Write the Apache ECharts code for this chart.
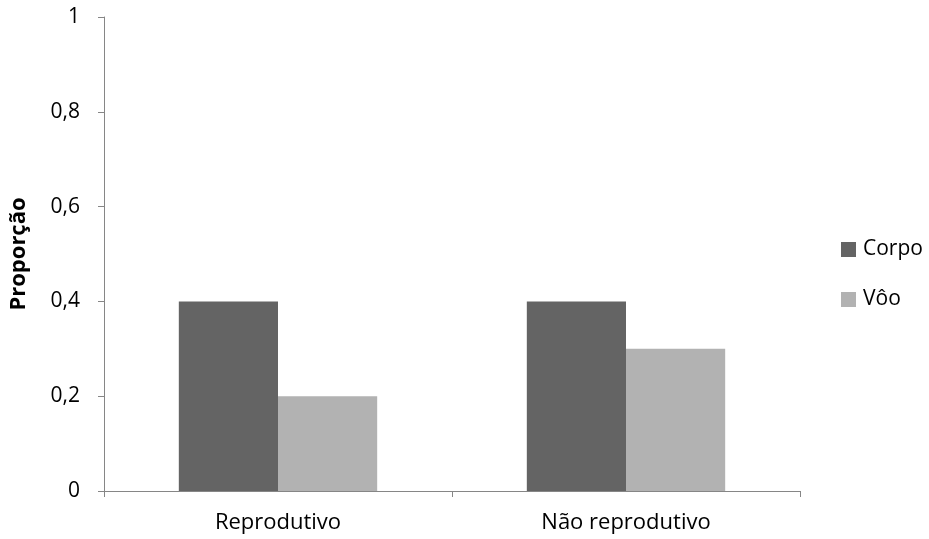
<!DOCTYPE html>
<html>
<head>
<meta charset="utf-8">
<script src="https://cdn.jsdelivr.net/npm/echarts@6/dist/echarts.min.js"></script>
<style>
  html, body { margin: 0; padding: 0; background: #fff; }
  #chart { width: 929px; height: 539px; }
</style>
</head>
<body>
<div id="chart"></div>
<script>
var categories = ['Reprodutivo', 'Não reprodutivo'];
var corpo = [0.4, 0.4];
var voo = [0.2, 0.3];

var fontName = 'Open Sans';
var chart = echarts.init(document.getElementById('chart'));

chart.setOption({
    animation: false,
    color: ['#646464', '#b2b2b2'],
    textStyle: { fontFamily: fontName },
    grid: { left: 102, right: 129, top: 17, bottom: 48, containLabel: false },
    legend: {
        orient: 'vertical',
        left: 836,
        top: 234,
        itemWidth: 15,
        itemHeight: 15,
        itemGap: 29,
        icon: 'rect',
        textStyle: { fontSize: 21, color: '#000', fontFamily: fontName, padding: [0, 0, 0, 2] },
        data: ['Corpo', 'Vôo']
    },
    xAxis: {
        type: 'category',
        data: categories,
        axisLine: { lineStyle: { color: '#868686', width: 1 } },
        axisTick: { show: true, length: 6, alignWithLabel: false, lineStyle: { color: '#868686' } },
        axisLabel: { fontSize: 22, color: '#000', margin: 21, fontFamily: fontName }
    },
    yAxis: {
        type: 'value',
        min: 0,
        max: 1,
        interval: 0.2,
        name: 'Proporção',
        nameLocation: 'middle',
        nameGap: 74,
        nameTextStyle: { fontSize: 22, fontWeight: 'bold', color: '#000', fontFamily: fontName },
        axisLine: { show: true, lineStyle: { color: '#868686', width: 1 } },
        axisTick: { show: true, length: 6, lineStyle: { color: '#868686' } },
        splitLine: { show: false },
        axisLabel: {
            fontSize: 21,
            color: '#000',
            margin: 24,
            fontFamily: fontName,
            formatter: function (v) { return String(Math.round(v * 10) / 10).replace('.', ','); }
        }
    },
    series: [
        { name: 'Corpo', type: 'bar', data: corpo, barGap: '0%', barCategoryGap: '43%' },
        { name: 'Vôo', type: 'bar', data: voo, barGap: '0%', barCategoryGap: '43%' }
    ]
});
</script>
</body>
</html>
